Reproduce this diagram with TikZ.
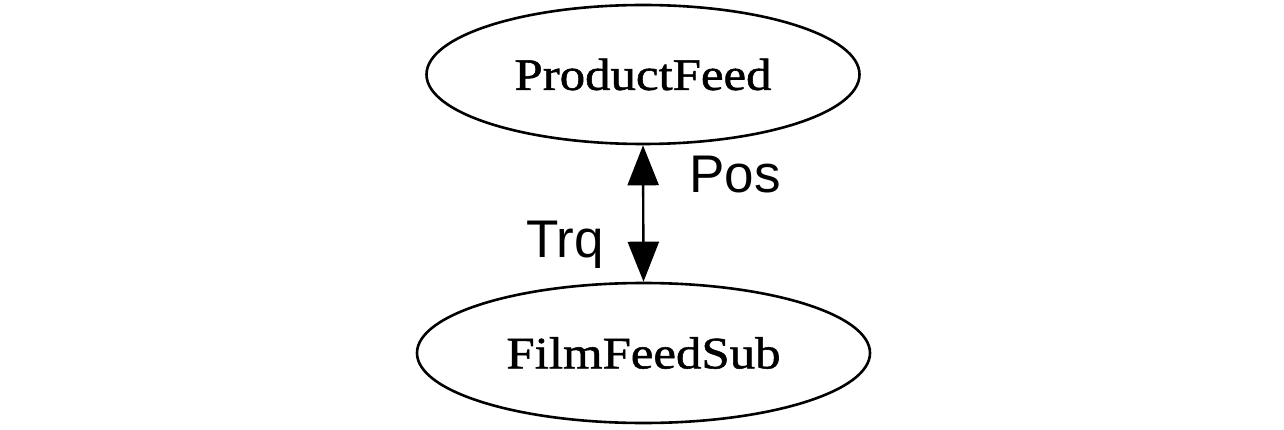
\documentclass[tikz,border=0pt]{standalone}
\usepackage{fontspec}
\usepackage{tikz}
\usetikzlibrary{positioning, shapes.geometric, arrows.meta}
\newfontfamily\nodefont{Liberation Serif}[FakeStretch=1.13, FakeBold=1.2]
\newfontfamily\edgefont{Liberation Sans}
\tikzset{
    unit/.style={
        draw, ellipse, line width = 2.6pt,
        inner sep = 0pt,
        font = \nodefont\fontsize{45}{50}\selectfont
    },
    tag/.style = {anchor = base west, inner sep = 0pt, font = \edgefont\fontsize{53}{60}\selectfont},
    line/.style = {{Triangle[length=40pt, width=31pt]}-{Triangle[length=40pt, width=31pt]}, line width = 2.4pt}
}
\begin{document}
\begin{tikzpicture}[x = 1pt, y = -1pt]

                            \useasboundingbox (0,0) rectangle (1284,430);
                            \node[unit, minimum width = 433pt, minimum height = 139pt] (feed) at (643,74.5) {ProductFeed};
                            \node[unit, minimum width = 453pt, minimum height = 140pt] (film) at (643.5,353) {FilmFeedSub};
                            \node[tag] (pos) at (689,193) {Pos};
                            \node[tag] (trq) at (526,258) {Trq};

                            \draw[line] (feed.south) -- (film.north);

                        \end{tikzpicture}
\end{document}
